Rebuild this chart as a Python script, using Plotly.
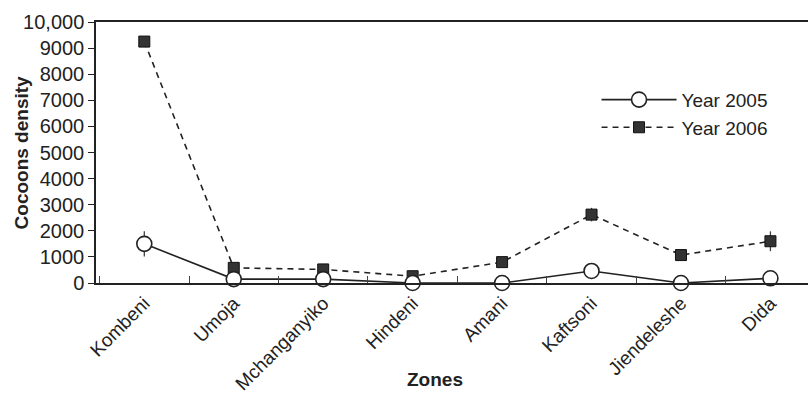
import plotly.graph_objects as go

zones = ["Kombeni", "Umoja", "Mchanganyiko", "Hindeni", "Amani", "Kaftsoni", "Jiendeleshe", "Dida"]
y2005 = [1500, 150, 150, 0, 0, 460, 0, 180]
err2005 = [480, 0, 0, 0, 0, 0, 0, 0]
y2006 = [9250, 580, 520, 260, 800, 2620, 1070, 1600]
err2006 = [0, 0, 0, 0, 0, 260, 0, 380]

ytick_vals = [0, 1000, 2000, 3000, 4000, 5000, 6000, 7000, 8000, 9000, 10000]
ytick_text = ["0", "1000", "2000", "3000", "4000", "5000", "6000", "7000", "8000", "9000", "10,000"]

FONT = "Liberation Sans, Arial, sans-serif"

fig = go.Figure()
fig.add_trace(go.Scatter(
    x=zones, y=y2006, name="Year 2006", mode="lines+markers",
    line=dict(color="#222", width=1.6, dash="6px,5px"),
    marker=dict(symbol="square", size=11, color="#333", line=dict(color="#111", width=1)),
    error_y=dict(type="data", array=err2006, color="#444", thickness=1.3, width=0),
    cliponaxis=False,
))
fig.add_trace(go.Scatter(
    x=zones, y=y2005, name="Year 2005", mode="lines+markers",
    line=dict(color="#222", width=1.6),
    marker=dict(symbol="circle", size=15, color="white", line=dict(color="#222", width=1.6)),
    error_y=dict(type="data", array=err2005, color="#444", thickness=1.3, width=0),
    cliponaxis=False,
))

fig.update_layout(
    width=808, height=395,
    margin=dict(l=96, r=0, t=22, b=112),
    plot_bgcolor="white", paper_bgcolor="white",
    font=dict(family=FONT, size=19, color="#222"),
    showlegend=True,
    legend=dict(x=0.703, y=0.775, xanchor="left", yanchor="top",
                traceorder="reversed", itemwidth=75,
                bgcolor="rgba(0,0,0,0)", font=dict(size=19),
                tracegroupgap=0),
    xaxis=dict(
        range=[-0.54, 7.42], showgrid=False, zeroline=False,
        showline=True, linecolor="#222", linewidth=1.5, mirror=True,
        ticks="inside", tickson="boundaries", ticklen=7, tickcolor="#444",
        tickangle=-45, tickfont=dict(size=19), automargin=False,
    ),
    yaxis=dict(
        range=[0, 10000], showgrid=False, zeroline=False,
        showline=True, linecolor="#222", linewidth=1.5,
        ticks="outside", ticklen=6, tickcolor="#222", automargin=False,
        tickvals=ytick_vals, ticktext=ytick_text, tickfont=dict(size=20),
    ),
    annotations=[
        dict(text="<b>Zones</b>", xref="paper", yref="paper", x=0.476, y=-0.37,
             xanchor="center", yanchor="middle", showarrow=False, font=dict(size=19)),
        dict(text="<b>Cocoons density</b>", xref="paper", yref="paper", x=-0.104, y=0.5,
             xanchor="center", yanchor="middle", textangle=-90, showarrow=False,
             font=dict(size=19)),
    ],
)

# drop the browser's default 8px body margin so the figure sits at the window corner
fig.write_html("out.html", config={"displayModeBar": False},
               post_script="document.body.style.margin='0';")
